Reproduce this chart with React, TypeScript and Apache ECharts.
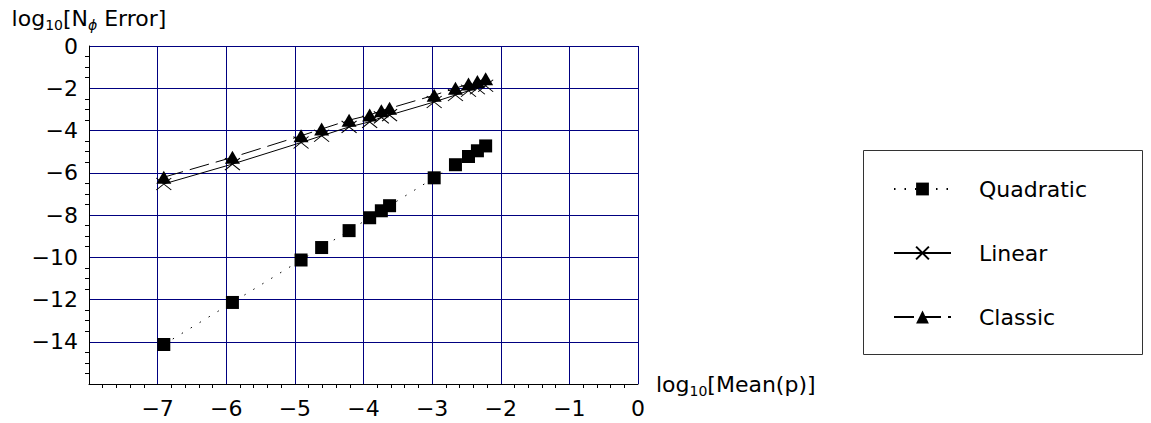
import React, { useEffect, useRef } from "react";
import * as echarts from "echarts";

const FONT = "DejaVu Sans";

const meanP = [-6.91, -5.91, -4.91, -4.61, -4.21, -3.91, -3.74, -3.62, -2.97, -2.66, -2.47, -2.34, -2.22];
const quadratic = [-14.13, -12.14, -10.13, -9.54, -8.74, -8.13, -7.8, -7.56, -6.24, -5.62, -5.23, -4.96, -4.73];
const linear = [-6.53, -5.59, -4.57, -4.25, -3.83, -3.59, -3.38, -3.27, -2.65, -2.32, -2.12, -2.0, -1.88];
const classic = [-6.21, -5.27, -4.25, -3.93, -3.51, -3.27, -3.06, -2.95, -2.33, -2.0, -1.8, -1.68, -1.55];
const seriesNames = ["Quadratic", "Linear", "Classic"];

const fmt = (v: number) => (v < 0 ? "\u2212" + Math.abs(v) : String(v));

const rich = {
  a: { fontSize: 22, fontFamily: FONT, color: "#000", lineHeight: 28 },
  s: { fontSize: 14, fontFamily: FONT, color: "#000", lineHeight: 14, verticalAlign: "bottom" },
  p: { fontSize: 14, fontFamily: FONT, fontStyle: "italic", color: "#000", lineHeight: 13, verticalAlign: "bottom" },
};

export default function App() {
  const ref = useRef<HTMLDivElement>(null);
  useEffect(() => {
    if (!ref.current) return;
    const chart = echarts.init(ref.current, undefined, { renderer: "svg" });
    const pairs = (ys: number[]) => meanP.map((x, i) => [x, ys[i]]);
    chart.setOption({
      animation: false,
      grid: { left: 89, top: 46, right: 513, bottom: 39 },
      xAxis: {
        type: "value",
        min: -8,
        max: 0,
        interval: 1,
        name: "{a|log}{s|10}{a|[Mean(p)]}",
        nameLocation: "end",
        nameGap: 18,
        nameTextStyle: { rich, fontFamily: FONT, fontSize: 22, color: "#000", verticalAlign: "middle" },
        axisLine: { onZero: false, lineStyle: { color: "#000", width: 1 } },
        axisTick: { show: false },
        minorTick: { show: true, splitNumber: 5, length: 4, lineStyle: { color: "#000", width: 1 } },
        axisLabel: {
          showMinLabel: false,
          formatter: fmt,
          fontFamily: FONT,
          fontSize: 22,
          color: "#000",
          margin: 13,
        },
        splitLine: { show: true, lineStyle: { color: "#000080", width: 1 } },
      },
      yAxis: {
        type: "value",
        min: -16,
        max: 0,
        interval: 2,
        name: "{a|log}{s|10}{a|[N}{p|\u03d5}{a| Error]}",
        nameLocation: "end",
        nameGap: 14,
        nameTextStyle: { rich, fontFamily: FONT, fontSize: 22, color: "#000" },
        axisLine: { show: true, onZero: false, lineStyle: { color: "#000", width: 1 } },
        axisTick: { show: false },
        minorTick: { show: true, splitNumber: 4, length: 4, lineStyle: { color: "#000", width: 1 } },
        axisLabel: {
          showMinLabel: false,
          formatter: fmt,
          fontFamily: FONT,
          fontSize: 22,
          color: "#000",
          margin: 11,
        },
        splitLine: { show: true, lineStyle: { color: "#000080", width: 1 } },
      },
      legend: {
        orient: "vertical",
        left: 893,
        top: 178,
        padding: 0,
        itemWidth: 57,
        itemHeight: 16,
        itemGap: 42,
        data: seriesNames,
        formatter: (name: string) => `{t|${name}}`,
        textStyle: {
          fontFamily: FONT,
          fontSize: 22,
          color: "#000",
          rich: { t: { fontFamily: FONT, fontSize: 22, color: "#000", padding: [0, 0, 0, 23] } },
        },
      },
      graphic: [
        {
          type: "rect",
          shape: { x: 863.5, y: 150.5, width: 279, height: 204 },
          style: { fill: "none", stroke: "#333", lineWidth: 1 },
          silent: true,
        },
      ],
      series: [
        {
          name: seriesNames[0],
          type: "line",
          data: pairs(quadratic),
          symbol: "rect",
          symbolSize: 13,
          itemStyle: { color: "#000" },
          lineStyle: { color: "#000", width: 1, type: [1.5, 9] },
          silent: true,
        },
        {
          name: seriesNames[1],
          type: "line",
          data: pairs(linear),
          symbol: "path://M0,0L15,12M15,0L0,12",
          symbolSize: [15, 12],
          itemStyle: { color: "#000", borderColor: "#000", borderWidth: 1 },
          lineStyle: { color: "#000", width: 1, type: "solid" },
          silent: true,
        },
        {
          name: seriesNames[2],
          type: "line",
          data: pairs(classic),
          symbol: "triangle",
          symbolSize: [15, 13],
          itemStyle: { color: "#000" },
          lineStyle: { color: "#000", width: 1, type: [20, 7] },
          silent: true,
        },
      ],
    });
    return () => chart.dispose();
  }, []);
  return (
    <div
      ref={ref}
      style={{ position: "fixed", left: 0, top: 0, width: 1151, height: 423, background: "#fff" }}
    />
  );
}
